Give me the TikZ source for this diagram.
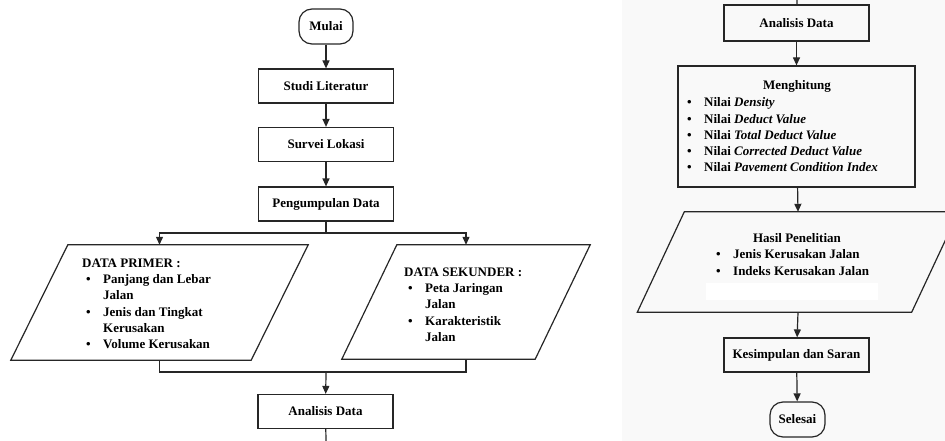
\documentclass[tikz,border=0pt]{standalone}
\usepackage{fontspec}
\setmainfont{Liberation Serif}
\usetikzlibrary{arrows.meta,positioning,calc}
\definecolor{ln}{HTML}{262626}
\definecolor{pane}{HTML}{F9F9F9}
\newcommand{\bul}[1]{\hspace*{4pt}\makebox[17pt][l]{\textbullet}#1}
\newcommand{\cnt}[1]{\hspace*{21pt}#1}

\begin{document}
\begin{tikzpicture}[x=1pt, y=-1pt,
  font=\bfseries\fontsize{13}{16.3}\selectfont,
  blk/.style={draw=ln, line width=1.2pt, rectangle, minimum width=135pt,
    minimum height=34pt, inner sep=0pt},
  term/.style={blk, rounded corners=13pt, minimum width=54pt, minimum height=35pt},
  io/.style={rectangle, inner sep=0pt},
  lnk/.style={-{Triangle[length=8pt,width=7pt]}, line width=1.2pt, draw=ln},
  wire/.style={line width=1.2pt, draw=ln},
  txt/.style={align=left, inner sep=0pt, anchor=north west},
]
\useasboundingbox (0,0) rectangle (945,441);
\clip (0,0) rectangle (945,441);
% left half
\node[term] (mulai) at (326,26.5) {Mulai};
\node[blk] (studi) at (326,86) {Studi Literatur};
\node[blk] (survei) at (326,144.5) {Survei Lokasi};
\node[blk] (kumpul) at (326,204) {Pengumpulan Data};
\node[io, minimum width=297pt, minimum height=115pt] (primer) at (159.5,302.5) {};
\node[io, minimum width=248pt, minimum height=114pt] (sekunder) at (466,302) {};
\draw[wire] ($(primer.north west)+(57,0)$) -- (primer.north east)
  -- ($(primer.south east)-(57,0)$) -- (primer.south west) -- cycle;
\draw[wire] ($(sekunder.north west)+(55,0)$) -- (sekunder.north east)
  -- ($(sekunder.south east)-(55,0)$) -- (sekunder.south west) -- cycle;
\node[txt] (primertxt) at (82,258.5) {DATA PRIMER :\\
  \bul{Panjang dan Lebar}\\ \cnt{Jalan}\\
  \bul{Jenis dan Tingkat}\\ \cnt{Kerusakan}\\
  \bul{Volume Kerusakan}};
\node[txt] (sekundertxt) at (404,267.5) {DATA SEKUNDER :\\
  \bul{Peta Jaringan}\\ \cnt{Jalan}\\
  \bul{Karakteristik}\\ \cnt{Jalan}};
\node[blk] (analisis) at (325.5,411.5) {Analisis Data};
\coordinate (split) at (326,233);
\coordinate (join) at (326,372);
\coordinate (tail) at (326,441);
\draw[lnk] (mulai) -- (studi);
\draw[lnk] (studi) -- (survei);
\draw[lnk] (survei) -- (kumpul);
\draw[wire] (kumpul) -- (split);
\draw[lnk] (split) -| (primer.north);
\draw[lnk] (split) -| (sekunder.north);
\draw[wire] (primer.south) |- (join);
\draw[wire] (sekunder.south) |- (join);
\draw[lnk] (join) -- (analisis);
\draw[wire] (analisis) -- (tail);
% right half
\fill[pane] (622,0) rectangle (945,441);
\coordinate (head) at (797,0);
\node[blk, minimum width=145pt, minimum height=36pt] (analisisb) at (796.5,23) {Analisis Data};
\node[blk, minimum width=237pt, minimum height=121pt] (hitung) at (796.5,126.5) {};
\node (hitungjdl) at (797,86) {Menghitung};
\node[txt] (hitungtxt) at (683,97.5) {\bul{Nilai \textit{Density}}\\
  \bul{Nilai \textit{Deduct Value}}\\
  \bul{Nilai \textit{Total Deduct Value}}\\
  \bul{Nilai \textit{Corrected Deduct Value}}\\
  \bul{Nilai \textit{Pavement Condition Index}}};
\node[io, minimum width=321pt, minimum height=100pt] (hasil) at (798,262) {};
\draw[wire] ($(hasil.north west)+(47,0)$) -- (hasil.north east)
  -- ($(hasil.south east)-(47,0)$) -- (hasil.south west) -- cycle;
\fill[white] (706,283) rectangle (878,300);
\node (hasiljdl) at (797,238) {Hasil Penelitian};
\node[txt] (hasiltxt) at (712,249.5) {\bul{Jenis Kerusakan Jalan}\\
  \bul{Indeks Kerusakan Jalan}};
\node[blk, minimum width=145pt] (simpul) at (796.5,355) {Kesimpulan dan Saran};
\node[term, minimum width=55pt] (selesai) at (797.5,419.5) {Selesai};
\draw[wire] (head) -- (analisisb);
\draw[lnk] (analisisb) -- (hitung);
\draw[lnk] (hitung) -- (hasil.north);
\draw[lnk] (hasil.south) -- (simpul);
\draw[lnk] (simpul) -- (selesai);
\end{tikzpicture}
\end{document}
